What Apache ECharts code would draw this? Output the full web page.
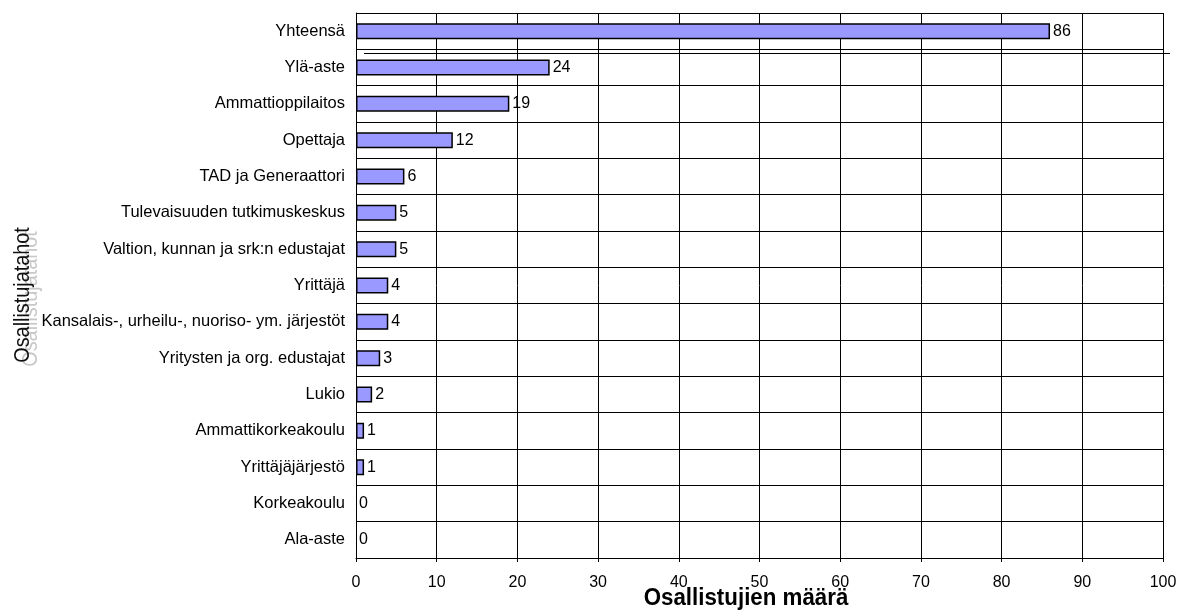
<!DOCTYPE html>
<html>
<head>
<meta charset="utf-8">
<script src="https://cdn.jsdelivr.net/npm/echarts@6/dist/echarts.min.js"></script>
<style>
  html, body { margin: 0; padding: 0; background: #fff; }
  #chart { width: 1180px; height: 612px; }
</style>
</head>
<body>
<div id="chart"></div>
<script>
const categories = [
  'Yhteensä',
  'Ylä-aste',
  'Ammattioppilaitos',
  'Opettaja',
  'TAD ja Generaattori',
  'Tulevaisuuden tutkimuskeskus',
  'Valtion, kunnan ja srk:n edustajat',
  'Yrittäjä',
  'Kansalais-, urheilu-, nuoriso- ym. järjestöt',
  'Yritysten ja org. edustajat',
  'Lukio',
  'Ammattikorkeakoulu',
  'Yrittäjäjärjestö',
  'Korkeakoulu',
  'Ala-aste',
]
const counts = [86, 24, 19, 12, 6, 5, 5, 4, 4, 3, 2, 1, 1, 0, 0]
const xTicks = [0, 100, 10]
const xTitle = 'Osallistujien määrä'
const yTitle = 'Osallistujatahot'

const font = '"Liberation Sans", Arial, sans-serif'

const chart = echarts.init(document.getElementById('chart'))

// empty bars get no outline, like the original
const barData = counts.map(v => (v === 0 ? { value: v, itemStyle: { borderWidth: 0 } } : v))

function yTitleText(x, y, fill) {
  return {
    type: 'text',
    x,
    y,
    rotation: Math.PI / 2,
    scaleX: 0.9,
    style: {
      text: yTitle,
      fill,
      font: '22px "Liberation Sans", Arial, sans-serif',
      align: 'center',
      verticalAlign: 'bottom',
    },
  }
}

chart.setOption({
  backgroundColor: '#fff',
  animation: false,
  grid: { left: 356, right: 17, top: 13, bottom: 54 },
  xAxis: {
    type: 'value',
    min: xTicks[0],
    max: xTicks[1],
    interval: xTicks[2],
    axisLine: { show: true, lineStyle: { color: '#000', width: 1 } },
    axisTick: { show: true, length: 4, lineStyle: { color: '#000' } },
    axisLabel: { color: '#000', fontSize: 16, fontFamily: font, margin: 17 },
    splitLine: { show: true, lineStyle: { color: '#000', width: 1 } },
  },
  yAxis: {
    type: 'category',
    inverse: true,
    data: categories,
    axisLine: { show: true, lineStyle: { color: '#000', width: 1 } },
    axisTick: { show: false },
    axisLabel: { color: '#000', fontSize: 16.5, fontFamily: font, margin: 11 },
    splitLine: { show: true, lineStyle: { color: '#000', width: 1 } },
  },
  graphic: [
    // grey shadow copy behind the y title
    yTitleText(42, 299, '#c8c8c8'),
    yTitleText(34, 295, '#111'),
    {
      type: 'text',
      x: 746,
      y: 599,
      scaleX: 0.97,
      style: {
        text: xTitle,
        fill: '#000',
        font: 'bold 23px "Liberation Sans", Arial, sans-serif',
        align: 'center',
        verticalAlign: 'middle',
      },
    },
    {
      type: 'line',
      shape: { x1: 364, y1: 53.5, x2: 1170, y2: 53.5 },
      style: { stroke: '#000', lineWidth: 1 },
    },
  ],
  series: [
    {
      type: 'bar',
      data: barData,
      barWidth: 16,
      itemStyle: { color: '#9999FF', borderColor: '#000', borderWidth: 1.5 },
      label: {
        show: true,
        position: 'right',
        distance: 3,
        color: '#000',
        fontSize: 16,
        fontFamily: font,
      },
    },
  ],
})
</script>
</body>
</html>
